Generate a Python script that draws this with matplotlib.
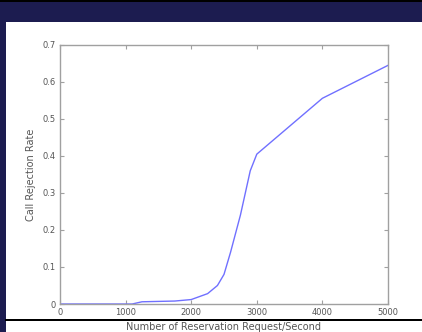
import matplotlib
matplotlib.use("Agg")
import matplotlib.pyplot as plt
from matplotlib.patches import Rectangle

# data
requests = [0, 500, 1000, 1100, 1250, 1500, 1750, 2000, 2250, 2400, 2500,
            2600, 2750, 2900, 3000, 4000, 5000]
rejection = [0, 0, 0, 0, 0.006, 0.007, 0.008, 0.012, 0.028, 0.05, 0.08,
             0.14, 0.24, 0.36, 0.405, 0.556, 0.645]
x_ticks = [0, 1000, 2000, 3000, 4000, 5000]
y_ticks = [0, 0.1, 0.2, 0.3, 0.4, 0.5, 0.6, 0.7]

W, H = 422, 332
fig = plt.figure(figsize=(W / 100, H / 100), dpi=100)
fig.patch.set_facecolor("#1c1c50")

# slide background: white panel, black rules
fig.patches.append(Rectangle((6 / W, 0), 1, (H - 22) / H, transform=fig.transFigure,
                             facecolor="white", edgecolor="none", zorder=-10))
fig.patches.append(Rectangle((5 / W, 11 / H), 1, 2 / H, transform=fig.transFigure,
                             facecolor="black", edgecolor="none", zorder=-9))
fig.patches.append(Rectangle((0, (H - 2) / H), 1, 2 / H, transform=fig.transFigure,
                             facecolor="black", edgecolor="none", zorder=-9))

ax = fig.add_axes([60 / W, 28 / H, 328 / W, 259 / H])
ax.plot(requests, rejection, color="#7070ff", linewidth=1.0)

ax.set_xlim(0, 5000)
ax.set_ylim(0, 0.7)
ax.set_xticks(x_ticks)
ax.set_yticks(y_ticks)
ax.set_xticklabels([str(v) for v in x_ticks])
ax.set_yticklabels(["0"] + [f"{v:g}" for v in y_ticks[1:]])

gray = "#555555"
for s in ax.spines.values():
    s.set_color("#a0a0a0")
    s.set_linewidth(1.0)
ax.tick_params(direction="in", length=3, width=0.8, color="#a0a0a0",
               labelsize=6, labelcolor=gray, top=True, right=True, pad=3)

ax.set_xlabel("Number of Reservation Request/Second", fontsize=7, color=gray)
ax.xaxis.set_label_coords(0.5, -0.068)
ax.set_ylabel("Call Rejection Rate", fontsize=7, color=gray, labelpad=5)

fig.savefig("out.png", dpi=100, facecolor=fig.get_facecolor())
